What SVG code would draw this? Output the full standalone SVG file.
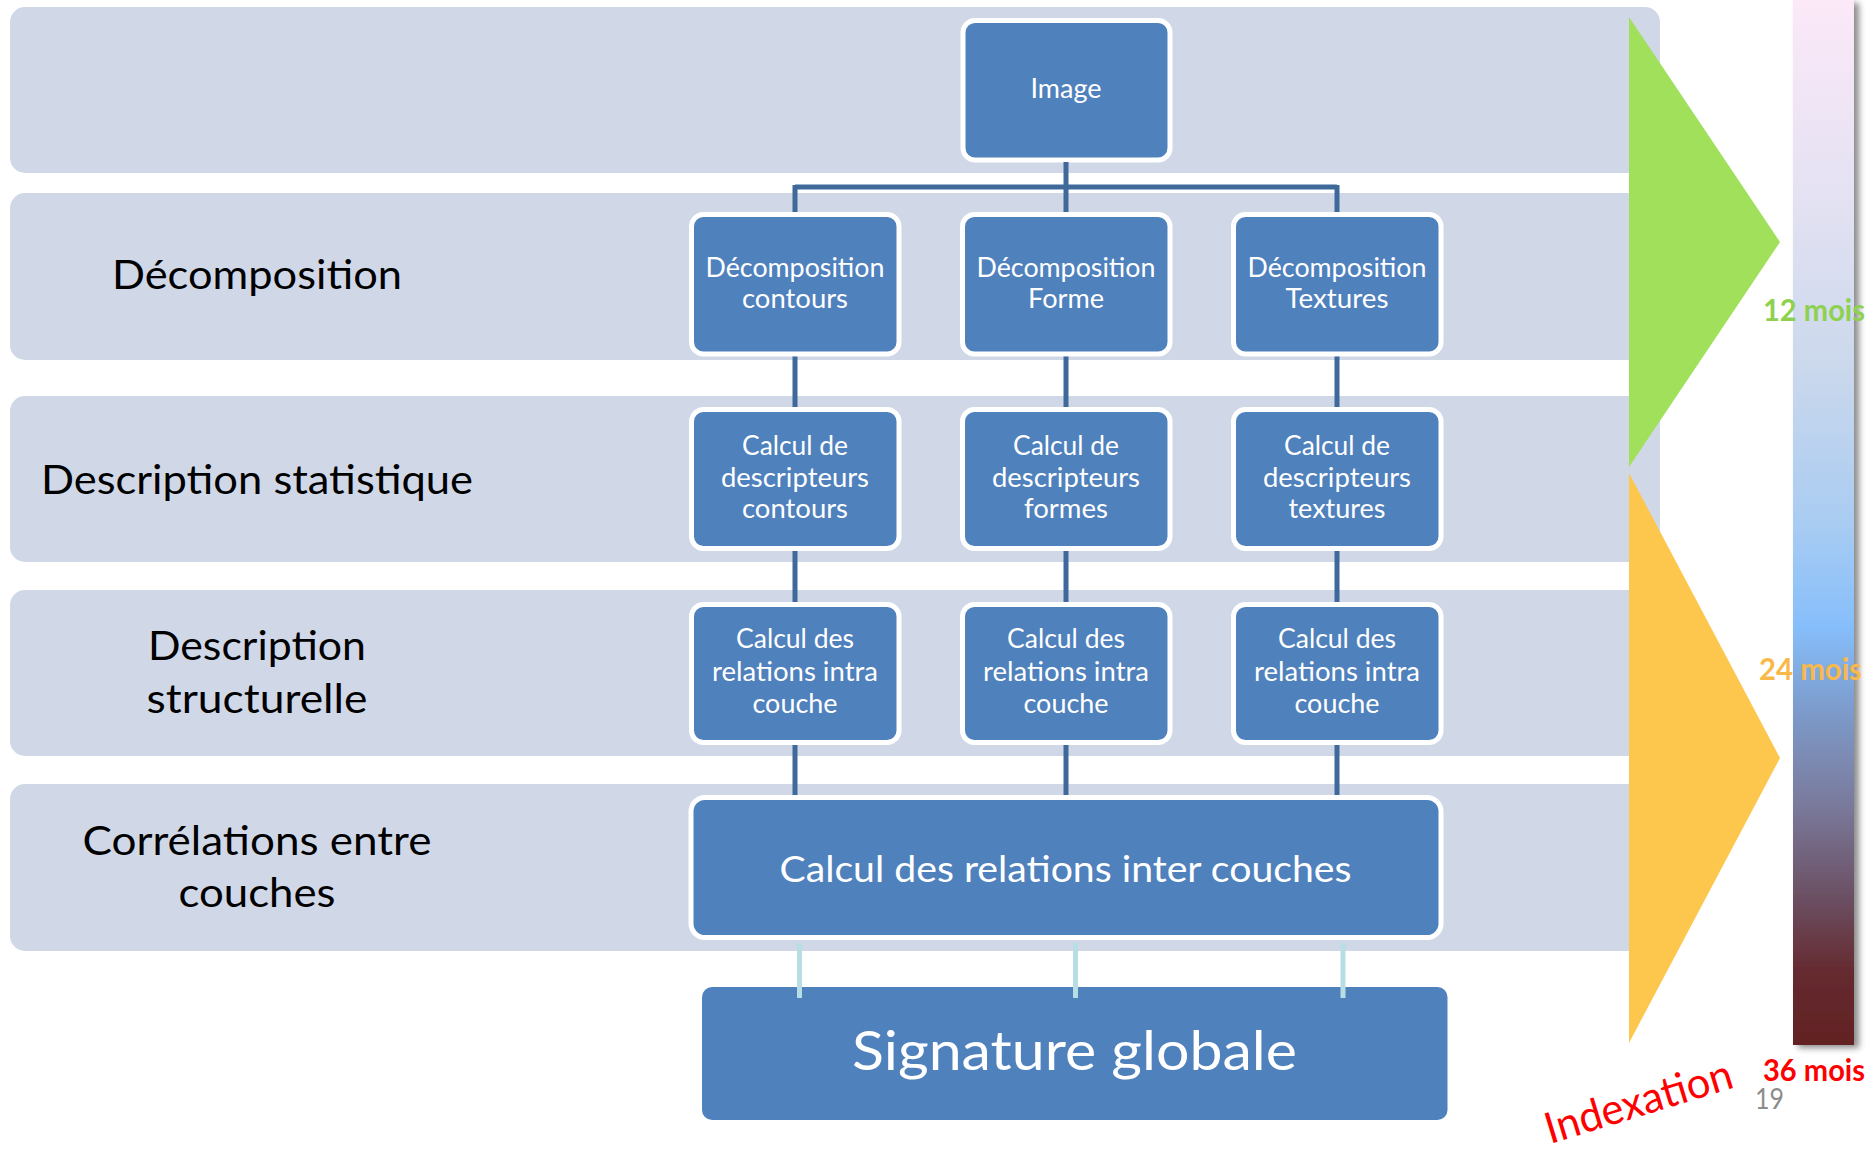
<svg xmlns="http://www.w3.org/2000/svg" width="1875" height="1149" viewBox="0 0 1875 1149">
<defs>
<style>
.band{fill:#D0D8E8}
.box{fill:#4F81BD;stroke:#FFFFFF;stroke-width:5}
.sig{fill:#4F81BD}
.lbl{font-family:Lato,"Liberation Sans",sans-serif;font-size:40px;fill:#000000;text-anchor:middle}
.bt{font-family:Lato,"Liberation Sans",sans-serif;font-size:27px;fill:#FFFFFF;text-anchor:middle}
.bt-l{font-family:Lato,"Liberation Sans",sans-serif;font-size:37px;fill:#FFFFFF;text-anchor:middle}
.bt-xl{font-family:Lato,"Liberation Sans",sans-serif;font-size:54px;fill:#FFFFFF;text-anchor:middle}
.conn{stroke:#3F689B;stroke-width:5;fill:none}
.conn2{stroke:#B7DDE5;stroke-width:5;fill:none}
.mois{font-family:Lato,"Liberation Sans",sans-serif;font-size:30px;font-weight:bold}
</style>
<linearGradient id="bar" x1="0" y1="0" x2="0" y2="1">
<stop offset="0" stop-color="#FCE9F8"/>
<stop offset="0.2" stop-color="#E2E1F2"/>
<stop offset="0.35" stop-color="#CBD8EC"/>
<stop offset="0.5" stop-color="#A9CCF2"/>
<stop offset="0.6" stop-color="#86BEFB"/>
<stop offset="0.68" stop-color="#7C9BCB"/>
<stop offset="0.77" stop-color="#7A7A9C"/>
<stop offset="0.86" stop-color="#6B4F62"/>
<stop offset="0.93" stop-color="#652A30"/>
<stop offset="1" stop-color="#632222"/>
</linearGradient>
<filter id="shadow" x="-30%" y="-5%" width="160%" height="110%">
<feDropShadow dx="5" dy="3" stdDeviation="3" flood-color="#000000" flood-opacity="0.45"/>
</filter>
</defs>
<rect width="1875" height="1149" fill="#FFFFFF"/>

<g id="bands">
<rect class="band" x="10" y="7" width="1650" height="166" rx="15"/>
<rect class="band" x="10" y="193" width="1650" height="167" rx="15"/>
<rect class="band" x="10" y="396" width="1650" height="166" rx="15"/>
<rect class="band" x="10" y="590" width="1650" height="166" rx="15"/>
<rect class="band" x="10" y="784" width="1650" height="167" rx="15"/>
</g>

<g id="labels">
<text class="lbl" x="257" y="289" textLength="290" lengthAdjust="spacingAndGlyphs">Décomposition</text>
<text class="lbl" x="257" y="494" textLength="432" lengthAdjust="spacingAndGlyphs">Description statistique</text>
<text class="lbl" x="257" y="660" textLength="218" lengthAdjust="spacingAndGlyphs">Description</text>
<text class="lbl" x="257" y="713" textLength="221" lengthAdjust="spacingAndGlyphs">structurelle</text>
<text class="lbl" x="257" y="855" textLength="349" lengthAdjust="spacingAndGlyphs">Corrélations entre</text>
<text class="lbl" x="257" y="907" textLength="157" lengthAdjust="spacingAndGlyphs">couches</text>
</g>

<g id="timeline">
<polygon points="1629,17 1780,242 1629,467" fill="#A0E05B"/>
<polygon points="1629,473 1780,758 1629,1043" fill="#FDC64C"/>
<rect x="1793" y="0" width="61" height="1045" fill="url(#bar)" filter="url(#shadow)"/>
<text class="mois" x="1763" y="321" fill="#8ED150" textLength="102" lengthAdjust="spacingAndGlyphs">12 mois</text>
<text class="mois" x="1759" y="680" fill="#F9B94A" textLength="103" lengthAdjust="spacingAndGlyphs">24 mois</text>
<text class="mois" x="1763" y="1081" fill="#FF0000" textLength="102" lengthAdjust="spacingAndGlyphs">36 mois</text>
<text x="1755" y="1109" font-family="Lato,'Liberation Sans',sans-serif" font-size="28" fill="#8C8C8C" textLength="29" lengthAdjust="spacingAndGlyphs">19</text>
<text transform="translate(1550,1144) rotate(-17)" x="0" y="0" font-family="Lato,'Liberation Sans',sans-serif" font-size="43" fill="#FF0000" textLength="194" lengthAdjust="spacingAndGlyphs">Indexation</text>
</g>

<g id="node-image">
<rect class="box" x="963" y="20.5" width="207" height="139.5" rx="12"/>
<text class="bt" x="1066" y="98" textLength="71" lengthAdjust="spacingAndGlyphs">Image</text>
</g>

<g id="node-decomp-contours">
<rect class="box" x="691.5" y="214.5" width="207.5" height="139.5" rx="12"/>
<text class="bt" x="795" y="277" textLength="179" lengthAdjust="spacingAndGlyphs">Décomposition</text>
<text class="bt" x="795" y="308" textLength="106" lengthAdjust="spacingAndGlyphs">contours</text>
</g>
<g id="node-decomp-forme">
<rect class="box" x="962.5" y="214.5" width="207.5" height="139.5" rx="12"/>
<text class="bt" x="1066" y="277" textLength="179" lengthAdjust="spacingAndGlyphs">Décomposition</text>
<text class="bt" x="1066" y="308" textLength="76" lengthAdjust="spacingAndGlyphs">Forme</text>
</g>
<g id="node-decomp-textures">
<rect class="box" x="1233.5" y="214.5" width="207.5" height="139.5" rx="12"/>
<text class="bt" x="1337" y="277" textLength="179" lengthAdjust="spacingAndGlyphs">Décomposition</text>
<text class="bt" x="1337" y="308" textLength="103" lengthAdjust="spacingAndGlyphs">Textures</text>
</g>

<g id="node-desc-contours">
<rect class="box" x="691.5" y="409.5" width="207.5" height="139" rx="12"/>
<text class="bt" x="795" y="455" textLength="106" lengthAdjust="spacingAndGlyphs">Calcul de</text>
<text class="bt" x="795" y="487" textLength="148" lengthAdjust="spacingAndGlyphs">descripteurs</text>
<text class="bt" x="795" y="518" textLength="106" lengthAdjust="spacingAndGlyphs">contours</text>
</g>
<g id="node-desc-formes">
<rect class="box" x="962.5" y="409.5" width="207.5" height="139" rx="12"/>
<text class="bt" x="1066" y="455" textLength="106" lengthAdjust="spacingAndGlyphs">Calcul de</text>
<text class="bt" x="1066" y="487" textLength="148" lengthAdjust="spacingAndGlyphs">descripteurs</text>
<text class="bt" x="1066" y="518" textLength="84" lengthAdjust="spacingAndGlyphs">formes</text>
</g>
<g id="node-desc-textures">
<rect class="box" x="1233.5" y="409.5" width="207.5" height="139" rx="12"/>
<text class="bt" x="1337" y="455" textLength="106" lengthAdjust="spacingAndGlyphs">Calcul de</text>
<text class="bt" x="1337" y="487" textLength="148" lengthAdjust="spacingAndGlyphs">descripteurs</text>
<text class="bt" x="1337" y="518" textLength="97" lengthAdjust="spacingAndGlyphs">textures</text>
</g>

<g id="node-intra-1">
<rect class="box" x="691.5" y="604.5" width="207.5" height="138" rx="12"/>
<text class="bt" x="795" y="648" textLength="118" lengthAdjust="spacingAndGlyphs">Calcul des</text>
<text class="bt" x="795" y="681" textLength="166" lengthAdjust="spacingAndGlyphs">relations intra</text>
<text class="bt" x="795" y="713" textLength="85" lengthAdjust="spacingAndGlyphs">couche</text>
</g>
<g id="node-intra-2">
<rect class="box" x="962.5" y="604.5" width="207.5" height="138" rx="12"/>
<text class="bt" x="1066" y="648" textLength="118" lengthAdjust="spacingAndGlyphs">Calcul des</text>
<text class="bt" x="1066" y="681" textLength="166" lengthAdjust="spacingAndGlyphs">relations intra</text>
<text class="bt" x="1066" y="713" textLength="85" lengthAdjust="spacingAndGlyphs">couche</text>
</g>
<g id="node-intra-3">
<rect class="box" x="1233.5" y="604.5" width="207.5" height="138" rx="12"/>
<text class="bt" x="1337" y="648" textLength="118" lengthAdjust="spacingAndGlyphs">Calcul des</text>
<text class="bt" x="1337" y="681" textLength="166" lengthAdjust="spacingAndGlyphs">relations intra</text>
<text class="bt" x="1337" y="713" textLength="85" lengthAdjust="spacingAndGlyphs">couche</text>
</g>

<g id="node-inter">
<rect class="box" x="691" y="797.5" width="750" height="140" rx="14"/>
<text class="bt-l" x="1065.5" y="882" textLength="572" lengthAdjust="spacingAndGlyphs">Calcul des relations inter couches</text>
</g>

<g id="node-signature">
<rect class="sig" x="702" y="987" width="745.5" height="133" rx="10"/>
<text class="bt-xl" x="1074.5" y="1070" textLength="445" lengthAdjust="spacingAndGlyphs">Signature globale</text>
</g>

<g id="connectors">
<path class="conn" d="M1066,162 V187 M795,187 H1337 M795,185 V212 M1066,187 V212 M1337,185 V212"/>
<path class="conn" d="M795,356.5 V407 M1066,356.5 V407 M1337,356.5 V407"/>
<path class="conn" d="M795,551 V602 M1066,551 V602 M1337,551 V602"/>
<path class="conn" d="M795,745 V795 M1066,745 V795 M1337,745 V795"/>
<path class="conn2" d="M799.5,943 V998 M1075.5,943 V998 M1343,943 V998"/>
</g>
</svg>
